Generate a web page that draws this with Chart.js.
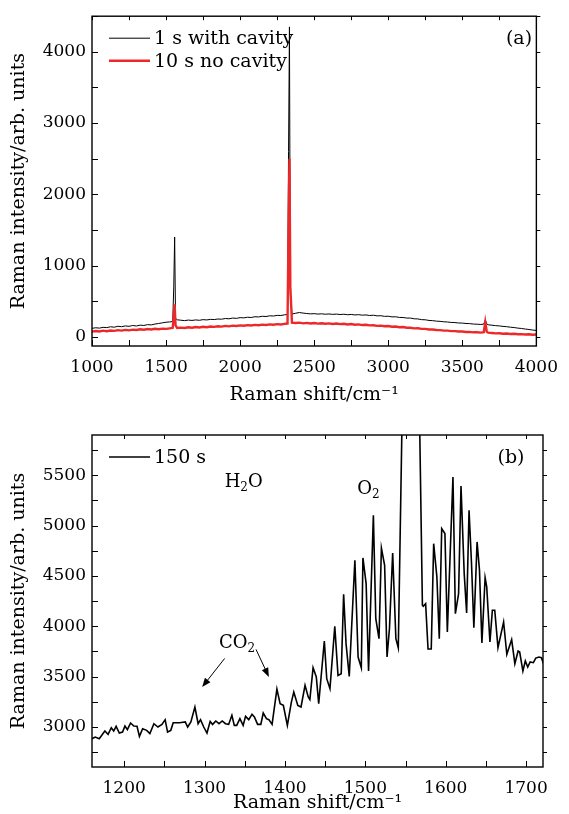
<!DOCTYPE html>
<html>
<head>
<meta charset="utf-8">
<script src="https://cdn.jsdelivr.net/npm/chart.js@4.4.0/dist/chart.umd.min.js"></script>
<style>
  body { margin: 0; background: #fff; }
  .wrap { position: relative; width: 569px; height: 814px; }
  canvas { position: absolute; left: 0; }
  #chartA { top: 0; }
  #chartB { top: 410px; }
</style>
</head>
<body>
<div class="wrap">
  <canvas id="chartA" width="569" height="410"></canvas>
  <canvas id="chartB" width="569" height="404"></canvas>
</div>
<script>
// (a) full spectra
const shiftA = [1000,1025,1050,1075,1100,1125,1150,1175,1200,1225,1250,1275,1300,1325,1350,1375,1400,1425,1450,1475,1500,1525,
  1545,1552,1558,1564,1575,1600,1625,1650,1675,1700,1725,1750,1775,1800,1825,1850,1875,1900,1925,1950,1975,2000,2025,2050,2075,
  2100,2125,2150,2175,2200,2225,2250,2275,2300,2320,2327,2333,2339,2350,2375,2400,2425,2450,2475,2500,2525,2550,2575,2600,2625,
  2650,2675,2700,2725,2750,2775,2800,2825,2850,2875,2900,2925,2950,2975,3000,3025,3050,3075,3100,3125,3150,3175,3200,3225,3250,
  3275,3300,3325,3350,3375,3400,3425,3450,3475,3500,3525,3550,3575,3600,3625,3645,3655,3665,3675,3700,3725,3750,3775,3800,3825,
  3850,3875,3900,3925,3950,3975,4000];
const withCavity = [118,126,121,132,128,140,134,147,141,152,146,158,151,163,158,170,166,178,186,195,204,208,
  214,700,1400,260,238,232,226,234,229,236,231,240,236,244,241,249,246,256,252,262,258,268,265,274,270,
  281,278,287,284,294,291,300,298,308,312,2600,4350,600,318,330,340,332,326,321,324,318,322,316,320,314,
  318,312,316,309,313,306,310,303,306,298,302,293,295,286,288,279,280,271,270,262,262,252,250,240,238,
  229,226,219,216,210,207,201,199,193,192,186,184,178,176,172,178,235,180,168,162,156,152,145,141,134,
  129,121,116,108,102,94,88];
const noCavity = [72,80,74,85,78,88,82,93,86,96,90,100,94,104,98,108,102,111,106,114,110,118,
  125,300,455,160,124,128,122,132,126,136,130,140,134,143,138,147,142,152,146,156,150,159,154,163,158,
  167,161,170,165,173,168,177,172,180,185,1500,2500,700,198,192,198,188,194,186,192,184,190,182,188,180,
  186,177,182,173,178,169,173,164,168,159,162,153,156,147,150,141,143,134,136,126,127,118,119,110,110,
  102,101,94,93,86,86,79,79,73,74,67,68,62,63,58,64,205,70,57,52,47,49,43,45,39,
  41,35,37,32,34,29,31];

// (b) O2 region, 150 s
const shiftB = [1160,1164,1169,1176,1180,1184,1187,1190,1194,1198,1201,1204,1208,1212,1216,1219,1223,1228,1232,1237,1242,1247,
  1251,1254,1258,1261,1269,1276,1279,1283,1288,1292,1295,1299,1303,1307,1310,1314,1318,1322,1326,1330,1334,1337,1340,1344,1348,
  1351,1355,1359,1362,1366,1370,1373,1377,1380,1384,1390,1394,1398,1403,1408,1411,1416,1420,1425,1429,1431,1435,1439,1442,1449,
  1452,1456,1462,1466,1470,1473,1476,1480,1487,1491,1495,1497,1501,1504,1510,1513,1517,1520,1524,1527,1530,1534,1538,1541,1546,
  1550,1556,1562,1567,1571,1572,1575,1578,1582,1585,1589,1592,1595,1599,1602,1609,1612,1616,1619,1623,1626,1629,1632,1635,1639,
  1642,1645,1649,1651,1655,1658,1661,1665,1672,1676,1682,1686,1690,1692,1696,1699,1702,1705,1709,1712,1716,1719,1722];
const run150 = [2884,2900,2884,2960,2927,2993,2960,3007,2940,2950,3010,2974,3040,3010,3007,2907,2983,2967,2934,3033,3000,3026,
  3073,2950,2967,3043,3043,3050,3000,3050,3199,3033,3073,3000,2940,3056,3026,3060,3033,3060,3033,3026,3116,3016,3016,3083,3016,
  3106,3073,3126,3099,3026,3026,3139,3083,3073,3026,3377,3232,3215,3016,3248,3348,3215,3199,3414,3298,3272,3589,3497,3232,3854,
  3480,3381,4000,3513,3530,4318,3828,3503,4656,3695,3589,4679,4424,3556,5103,4076,3877,4778,4606,3695,3977,4728,3877,3785,6200,
  12000,15000,12000,6300,4209,4199,4225,3775,3775,4821,4490,3877,4970,4921,3944,5483,4126,4325,5394,4523,4132,5152,4639,3987,4838,
  4556,3834,4483,4391,3844,4159,4159,3788,4043,3722,3868,3629,3755,3745,3556,3656,3596,3646,3639,3685,3695,3689,3619];

const xTicksA = [1000, 1500, 2000, 2500, 3000, 3500, 4000];
const yTicksA = [0, 1000, 2000, 3000, 4000];
const xTicksB = [1200, 1300, 1400, 1500, 1600, 1700];
const yTicksB = [3000, 3500, 4000, 4500, 5000, 5500];

const serif = '"DejaVu Serif", "Liberation Serif", serif';
const red = 'rgb(236,40,40)';

const pts = (xs, ys) => xs.map((x, i) => ({ x: x, y: ys[i] }));

function minorTicks(min, max, step) {
  const out = [];
  for (let v = Math.ceil(min / step) * step; v <= max; v += step) out.push(v);
  return out;
}

function chem(ctx, x, y, parts) {
  // parts: [text, isSub]
  let cx = x;
  parts.forEach(([t, sub]) => {
    ctx.font = (sub ? '12px ' : '18px ') + serif;
    ctx.fillText(t, cx, sub ? y + 4 : y);
    cx += ctx.measureText(t).width;
  });
}

function arrow(ctx, x1, y1, x2, y2) {
  const ang = Math.atan2(y2 - y1, x2 - x1);
  ctx.beginPath();
  ctx.moveTo(x1, y1);
  ctx.lineTo(x2 - 6 * Math.cos(ang), y2 - 6 * Math.sin(ang));
  ctx.stroke();
  ctx.beginPath();
  ctx.moveTo(x2, y2);
  ctx.lineTo(x2 - 9 * Math.cos(ang) + 3.5 * Math.sin(ang), y2 - 9 * Math.sin(ang) - 3.5 * Math.cos(ang));
  ctx.lineTo(x2 - 9 * Math.cos(ang) - 3.5 * Math.sin(ang), y2 - 9 * Math.sin(ang) + 3.5 * Math.cos(ang));
  ctx.closePath();
  ctx.fill();
}

// frame, inward ticks, legend and panel labels
const framePlugin = {
  id: 'frame',
  afterDatasetsDraw(chart, args, o) {
    const { ctx, chartArea: a, scales: { x, y } } = chart;
    ctx.save();
    ctx.strokeStyle = '#000';
    ctx.fillStyle = '#000';
    ctx.lineWidth = 1;
    const xs = minorTicks(x.min, x.max, o.xMinor);
    const ys = minorTicks(y.min, y.max, o.yMinor);
    ctx.beginPath();
    xs.forEach(v => {
      const px = Math.round(x.getPixelForValue(v)) + 0.5;
      ctx.moveTo(px, a.bottom); ctx.lineTo(px, a.bottom - 6);
      ctx.moveTo(px, a.top); ctx.lineTo(px, a.top + 4);
    });
    ys.forEach(v => {
      const py = Math.round(y.getPixelForValue(v)) + 0.5;
      ctx.moveTo(a.left, py); ctx.lineTo(a.left + 6, py);
      ctx.moveTo(a.right, py); ctx.lineTo(a.right + 4, py);
    });
    ctx.stroke();
    ctx.lineWidth = 1.4;
    ctx.strokeRect(a.left, a.top, a.right - a.left, a.bottom - a.top);

    // legend
    ctx.font = '19px ' + serif;
    ctx.textBaseline = 'middle';
    o.legend.forEach((it, i) => {
      const ds = chart.data.datasets[it.ds];
      const ly = a.top + o.legendTop + i * 22.5;
      ctx.strokeStyle = ds.borderColor;
      ctx.lineWidth = ds.borderWidth;
      ctx.beginPath();
      ctx.moveTo(a.left + 17, ly); ctx.lineTo(a.left + 58, ly);
      ctx.stroke();
      ctx.fillStyle = '#000';
      ctx.fillText(it.text, a.left + 62, ly + 1);
    });
    ctx.textAlign = 'center';
    ctx.fillText(o.panel, o.panelX, a.top + o.legendTop + 1);

    // chemical labels and arrows
    ctx.textAlign = 'left';
    ctx.textBaseline = 'alphabetic';
    (o.notes || []).forEach(n => chem(ctx, x.getPixelForValue(n.x), y.getPixelForValue(n.y), n.parts));
    ctx.lineWidth = 1;
    ctx.strokeStyle = '#000';
    (o.arrows || []).forEach(r => arrow(ctx,
      x.getPixelForValue(r[0]), y.getPixelForValue(r[1]),
      x.getPixelForValue(r[2]), y.getPixelForValue(r[3])));
    ctx.restore();
  }
};

function axes(xmin, xmax, xTicks, ymin, ymax, yTicks, xHeight, titleBottom) {
  const tickFont = { family: serif, size: 17 };
  const titleFont = { family: serif, size: 19 };
  return {
    x: {
      type: 'linear', min: xmin, max: xmax,
      afterBuildTicks: s => { s.ticks = xTicks.map(v => ({ value: v })); },
      afterFit: s => { s.height = xHeight; },
      grid: { display: false, drawTicks: false },
      border: { display: false },
      ticks: { color: '#000', font: tickFont, padding: 11, maxRotation: 0, autoSkip: false, callback: v => String(v) },
      title: { display: true, text: 'Raman shift/cm\u207B\u00B9', color: '#000', font: titleFont, padding: { top: 0, bottom: titleBottom } }
    },
    y: {
      type: 'linear', min: ymin, max: ymax,
      afterBuildTicks: s => { s.ticks = yTicks.map(v => ({ value: v })); },
      afterFit: s => { s.width = 92; },
      grid: { display: false, drawTicks: false },
      border: { display: false },
      ticks: { color: '#000', font: tickFont, padding: 6, autoSkip: false, callback: v => String(v) },
      title: { display: true, text: 'Raman intensity/arb. units', color: '#000', font: titleFont, padding: { top: 8, bottom: 0 } }
    }
  };
}

const base = {
  responsive: false,
  animation: false,
  devicePixelRatio: 1,
  events: [],
  elements: { point: { radius: 0 }, line: { tension: 0 } }
};

new Chart(document.getElementById('chartA'), {
  type: 'line',
  data: {
    datasets: [
      { label: '1 s with cavity', data: pts(shiftA, withCavity), borderColor: '#000', borderWidth: 1, order: 1 },
      { label: '10 s no cavity', data: pts(shiftA, noCavity), borderColor: red, borderWidth: 2.4, order: 0 }
    ]
  },
  options: Object.assign({}, base, {
    layout: { padding: { left: 0, right: 25, top: 15, bottom: 0 } },
    scales: axes(1000, 4000, xTicksA, -130, 4500, yTicksA, 64, 4),
    plugins: {
      legend: { display: false }, tooltip: { enabled: false },
      frame: {
        xMinor: 250, yMinor: 500,
        legend: [{ ds: 0, text: '1 s with cavity' }, { ds: 1, text: '10 s no cavity' }],
        legendTop: 22, panel: '(a)', panelX: 519
      }
    }
  }),
  plugins: [framePlugin]
});

new Chart(document.getElementById('chartB'), {
  type: 'line',
  data: {
    datasets: [
      { label: '150 s', data: pts(shiftB, run150), borderColor: '#000', borderWidth: 1.6 }
    ]
  },
  options: Object.assign({}, base, {
    layout: { padding: { left: 0, right: 26, top: 25, bottom: 0 } },
    scales: axes(1160, 1721, xTicksB, 2603, 5900, yTicksB, 47, 0),
    plugins: {
      legend: { display: false }, tooltip: { enabled: false },
      frame: {
        xMinor: 50, yMinor: 250,
        legend: [{ ds: 0, text: '150 s' }],
        legendTop: 22, panel: '(b)', panelX: 511,
        notes: [
          { x: 1325, y: 5388, parts: [['H', false], ['2', true], ['O', false]] },
          { x: 1490, y: 5318, parts: [['O', false], ['2', true]] },
          { x: 1318, y: 3781, parts: [['CO', false], ['2', true]] }
        ],
        arrows: [[1325, 3681, 1297, 3397], [1364, 3771, 1380, 3498]]
      }
    }
  }),
  plugins: [framePlugin]
});
</script>
</body>
</html>
